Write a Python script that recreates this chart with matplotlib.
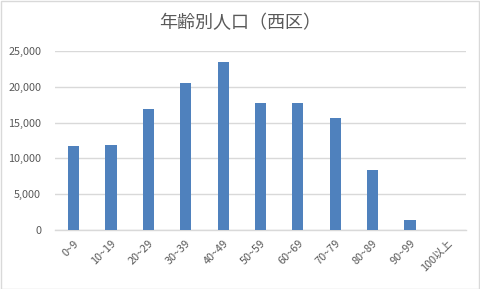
import matplotlib
matplotlib.use("Agg")
import matplotlib.pyplot as plt
from matplotlib.patches import Rectangle
from matplotlib.ticker import FuncFormatter

plt.rcParams['font.family'] = ['Noto Sans CJK JP', 'DejaVu Sans']

# データ
age_groups = ["0~9", "10~19", "20~29", "30~39", "40~49", "50~59",
              "60~69", "70~79", "80~89", "90~99", "100以上"]
population = [11700, 11900, 16900, 20500, 23500, 17700,
              17700, 15600, 8400, 1400, 40]
y_ticks = [0, 5000, 10000, 15000, 20000, 25000]

bar_color = '#4F81BD'
grid_color = '#D9D9D9'
text_color = '#595959'

fig = plt.figure(figsize=(4.8, 2.89), dpi=100)
ax = fig.add_axes([55/480, 1 - 230/289, 411/480, 179/289])

x = range(len(age_groups))
ax.bar(x, population, width=0.3, color=bar_color, zorder=3)

ax.set_xlim(-0.5, len(age_groups) - 0.5)
ax.set_ylim(0, 25000)
ax.set_yticks(y_ticks)
ax.yaxis.set_major_formatter(FuncFormatter(lambda v, p: f"{int(v):,}"))
ax.grid(axis='y', color=grid_color, linewidth=1, zorder=0)

for s in ['top', 'right', 'left']:
    ax.spines[s].set_visible(False)
ax.spines['bottom'].set_color(grid_color)
ax.spines['bottom'].set_linewidth(1)

ax.set_xticks(list(x))
ax.set_xticklabels(age_groups, rotation=45, ha='right', rotation_mode='anchor')
ax.tick_params(axis='both', length=0, colors=text_color, labelsize=7.8)
ax.tick_params(axis='x', pad=6)
ax.tick_params(axis='y', pad=10)

fig.text(0.5, 1 - 23/289, "年齢別人口（西区）", ha='center', va='center',
         fontsize=13, color=text_color)

# 外枠
fig.patches.append(Rectangle((0.5/480, 0.5/289), 1 - 1.5/480, 1 - 1.5/289,
                             transform=fig.transFigure, fill=False,
                             edgecolor=grid_color, linewidth=1))

fig.savefig("out.png", dpi=100)
